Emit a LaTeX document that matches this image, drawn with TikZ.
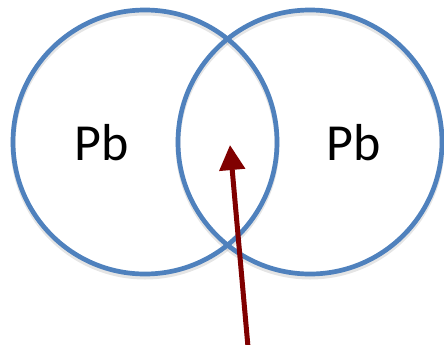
\documentclass[tikz,border=0pt]{standalone}
\usepackage{fontspec}
\setmainfont{Carlito}
\usetikzlibrary{arrows.meta}
\definecolor{ringblue}{RGB}{79,129,189}
\definecolor{arrowred}{RGB}{128,0,0}
\tikzset{
  ring/.style={circle, draw=ringblue, line width=4.7pt, minimum size=264pt, inner sep=0pt},
  ringshadow/.style={draw=black!40, line width=5pt, opacity=0.25},
  label/.style={font=\fontsize{52}{60}\selectfont, text=black, inner sep=0pt},
  pointer/.style={draw=arrowred, line width=5pt, -{Triangle[length=25pt,width=25pt]}}
}
\begin{document}
\begin{tikzpicture}[x=1pt,y=-1pt]
  \useasboundingbox (0,0) rectangle (444,345);
  % soft shadows
  \draw[ringshadow] (145,145) circle (132);
  \draw[ringshadow] (310,145) circle (132);
  % circles
  \node[ring] (left) at (145,142) {};
  \node[ring] (right) at (310,142) {};
  % labels
  \node[label] (pbL) at (102,143) {Pb};
  \node[label] (pbR) at (354,143) {Pb};
  % arrow
  \coordinate (tail) at (248,347);
  \coordinate (tip) at (230,145);
  \draw[pointer] (tail) -- (tip);
\end{tikzpicture}
\end{document}
